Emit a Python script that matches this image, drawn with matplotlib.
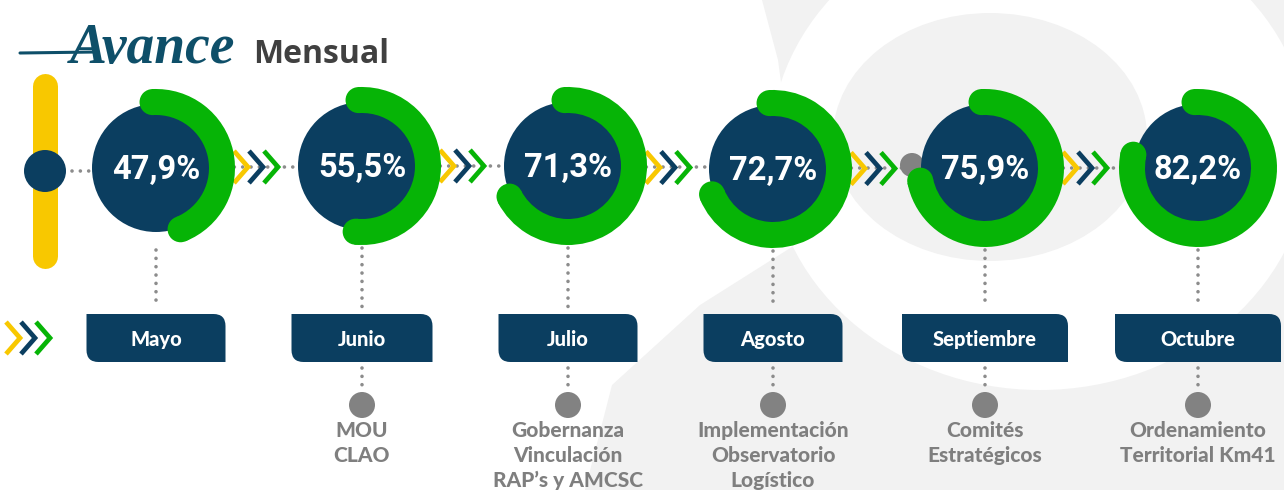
import math
import matplotlib
matplotlib.use("Agg")
import matplotlib.pyplot as plt
from matplotlib.patches import Circle, Wedge, Ellipse, PathPatch, Polygon
from matplotlib.path import Path

# ---------------- data ----------------
months = ["Mayo", "Junio", "Julio", "Agosto", "Septiembre", "Octubre"]
progress = [47.9, 55.5, 71.3, 72.7, 75.9, 82.2]
milestones = [
    [],
    ["MOU", "CLAO"],
    ["Gobernanza", "Vinculación", "RAP’s y AMCSC"],
    ["Implementación", "Observatorio", "Logístico"],
    ["Comités", "Estratégicos"],
    ["Ordenamiento", "Territorial Km41"],
]
title_script = "Avance"
title_bold = "Mensual"

# ---------------- layout / style ----------------
cx = [156, 362, 568, 773, 985, 1198]
cy = [168, 166, 166, 169, 168, 168]
box_w = [139, 141, 139, 139, 166, 166]

NAVY = "#0b3e60"
GREEN = "#06b406"
YELLOW = "#f8c800"
DOT = "#8c8c8c"
GREYC = "#828282"
TXTG = "#7f7f7f"
WM = "#f2f2f2"

W, H = 1284, 490
fig = plt.figure(figsize=(W / 100, H / 100), dpi=100)
ax = fig.add_axes([0, 0, 1, 1])
ax.set_xlim(0, W)
ax.set_ylim(H, 0)
ax.axis("off")

# ---------------- watermark ----------------
ax.add_patch(Polygon([(762, 0), (1284, 0), (1284, 490), (585, 490), (612, 385),
                      (700, 305), (795, 245), (790, 150), (778, 60)],
                     closed=True, facecolor=WM, edgecolor="none", zorder=0))
ax.add_patch(Ellipse((1040, 150), 540, 480, facecolor="white", edgecolor="none", zorder=0.1))
ax.add_patch(Ellipse((990, 137), 314, 248, facecolor=WM, edgecolor="none", zorder=0.2))


def dots(x0, y0, x1, y1):
    ax.plot([x0, x1], [y0, y1], color=DOT, lw=2.6, linestyle=(0, (0.01, 2.3)),
            dash_capstyle="round", zorder=1)


def chevrons(x0, yc):
    for k, col in enumerate([YELLOW, NAVY, GREEN]):
        xs = x0 + 15 * k
        ax.plot([xs, xs + 14, xs], [yc - 16, yc, yc + 16], color=col, lw=3.4,
                solid_capstyle="butt", solid_joinstyle="miter", zorder=2)


def leaf_box(xc, w, y0, y1, r=12):
    x0, x1 = xc - w / 2, xc + w / 2
    verts = [(x0, y0), (x1 - r, y0), (x1, y0), (x1, y0 + r), (x1, y1),
             (x0 + r, y1), (x0, y1), (x0, y1 - r), (x0, y0)]
    codes = [Path.MOVETO, Path.LINETO, Path.CURVE3, Path.CURVE3, Path.LINETO,
             Path.LINETO, Path.CURVE3, Path.CURVE3, Path.CLOSEPOLY]
    ax.add_patch(PathPatch(Path(verts, codes), facecolor=NAVY, edgecolor="none", zorder=3))


# ---------------- title ----------------
ax.plot([20, 95], [53, 52], color="#0e4f69", lw=2.2, solid_capstyle="round", zorder=5)
ax.text(70, 63, title_script, fontfamily="Liberation Serif", fontstyle="italic",
        fontweight="bold", fontsize=40, color="#0e4f69", va="baseline", ha="left", zorder=5)
ax.text(253, 63, title_bold, fontfamily="Open Sans", fontweight="bold", fontsize=23,
        color="#404040", va="baseline", ha="left", zorder=5)

# ---------------- left decorations ----------------
ax.plot([45, 45], [86, 256], color=YELLOW, lw=18, solid_capstyle="round", zorder=2)
ax.add_patch(Circle((45, 171), 21, facecolor=NAVY, edgecolor="none", zorder=3))
dots(72, 171, cx[0] - 60, 171)
chevrons(6, 338)

# connectors between circles
for i in range(len(months) - 1):
    yc = (cy[i] + cy[i + 1]) / 2
    dots(cx[i] + 70, yc, cx[i + 1] - 60, yc)
    chevrons(cx[i] + 78, yc)

# small grey dot at the left of the September circle
ax.add_patch(Circle((cx[4] - 73, cy[4] - 3), 12, facecolor=GREYC, edgecolor="none", zorder=2.5))

# ---------------- circles / rings ----------------
R_OUT, R_W = 79, 26
R_MID = R_OUT - R_W / 2
START = 93.0
CAP_DEG = math.degrees((R_W / 2) / R_MID)
for i, (m, p) in enumerate(zip(months, progress)):
    x, y = cx[i], cy[i]
    ax.add_patch(Circle((x, y), 64, facecolor=NAVY, edgecolor="none", zorder=3))
    span = p / 100 * 360 - CAP_DEG
    t1, t2 = -START, -START + span
    ax.add_patch(Wedge((x, y), R_OUT, t1, t2, width=R_W, facecolor=GREEN,
                       edgecolor="none", zorder=4))
    for t in (t1, t2):
        ax.add_patch(Circle((x + R_MID * math.cos(math.radians(t)),
                             y + R_MID * math.sin(math.radians(t))), R_W / 2,
                            facecolor=GREEN, edgecolor="none", zorder=4))
    label = f"{p:.1f}%".replace(".", ",")
    ax.text(x, y + 11, label, fontfamily="Roboto", fontweight="bold", fontsize=23.5,
            color="white", ha="center", va="baseline", zorder=6)

    # vertical dots to box
    dots(x, y + 82, x, 308)
    leaf_box(x, box_w[i], 314, 362)
    ax.text(x, 346, m, fontfamily="Lato", fontweight="black", fontsize=14.5,
            color="white", ha="center", va="baseline", zorder=6)

    if milestones[i]:
        dots(x, 368, x, 390)
        ax.add_patch(Circle((x, 405), 13, facecolor=GREYC, edgecolor="none", zorder=3))
        for j, line in enumerate(milestones[i]):
            ax.text(x, 437 + 25 * j, line, fontfamily="Lato", fontweight="black",
                    fontsize=15, color=TXTG, ha="center", va="baseline", zorder=6)

fig.savefig("out.png", dpi=100)
